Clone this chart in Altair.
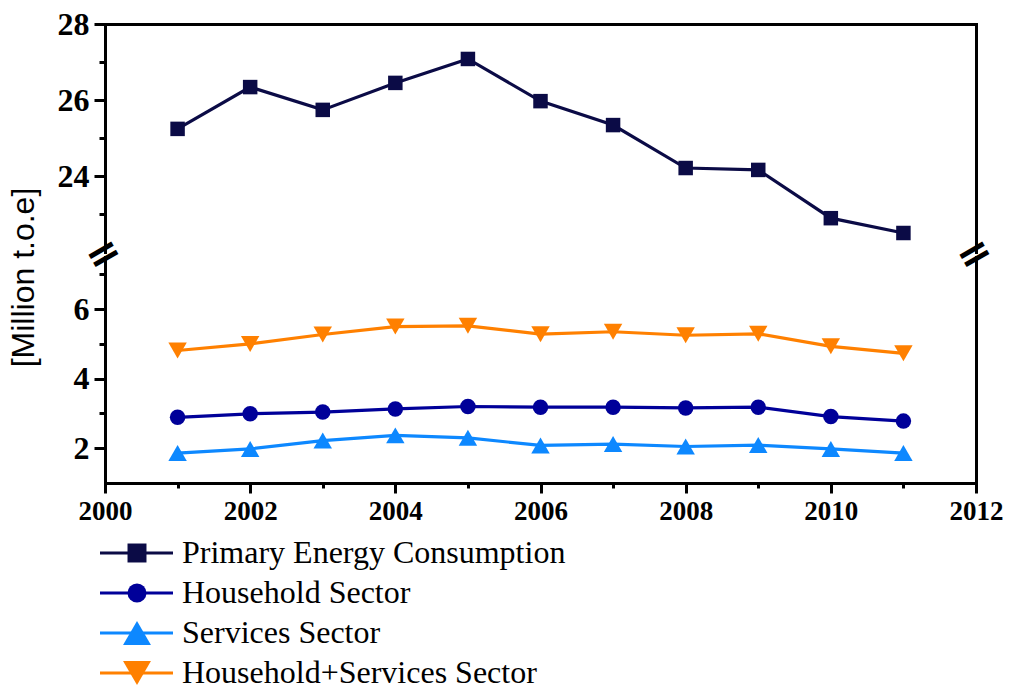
import altair as alt
import pandas as pd

years = list(range(2001, 2012))
primary = [25.24, 26.34, 25.74, 26.45, 27.08, 25.97, 25.34, 24.21, 24.16, 22.89, 22.50]
household = [2.89, 2.99, 3.04, 3.13, 3.20, 3.18, 3.18, 3.16, 3.18, 2.91, 2.78]
services = [1.86, 1.98, 2.22, 2.37, 2.30, 2.08, 2.12, 2.05, 2.09, 1.98, 1.86]
household_services = [4.81, 5.00, 5.27, 5.50, 5.52, 5.28, 5.35, 5.25, 5.29, 4.93, 4.73]

series = ["Primary Energy Consumption", "Household Sector", "Services Sector",
          "Household+Services Sector"]
colors = ["#0b0b46", "#000099", "#0d88ff", "#ff8000"]
shapes = ["square", "circle", "triangle-up", "triangle-down"]
x_ticks = list(range(2000, 2013))
top_ticks = [23, 24, 25, 26, 27, 28]
low_ticks = [2, 3, 4, 5, 6, 7]
break_years = [2000, 2012]

top_df = pd.DataFrame({"year": years, "value": primary, "series": series[0]})
low_df = pd.concat([
    pd.DataFrame({"year": years, "value": household, "series": series[1]}),
    pd.DataFrame({"year": years, "value": services, "series": series[2]}),
    pd.DataFrame({"year": years, "value": household_services, "series": series[3]}),
])
break_df = pd.DataFrame({"year": break_years})
legend_df = pd.DataFrame({"series": series})

BLACK = "black"
xscale = alt.Scale(domain=[2000, 2012], nice=False, zero=False)
color = alt.Color("series:N", scale=alt.Scale(domain=series, range=colors), legend=None)
shape = alt.Shape("series:N", scale=alt.Scale(domain=series, range=shapes), legend=None)
TRI = "indexof(datum.series, 'Services') >= 0"
NOT_TRI = "indexof(datum.series, 'Services') < 0"

axis_common = dict(domainColor=BLACK, domainWidth=3, domainCap="square", tickColor=BLACK,
                   tickWidth=3, grid=False)

x_none = alt.X("year:Q", scale=xscale, axis=None)

# ---------- upper segment ----------
top_scale = alt.Scale(domain=[22, 28], range=[228, 0], nice=False, zero=False)
top_left_axis = alt.Axis(
    orient="left", values=top_ticks, format="d",
    labelExpr="datum.value % 2 == 0 ? datum.label : ''",
    tickSize={"condition": {"test": "datum.value % 2 == 1", "value": 6}, "value": 11},
    labelFont="Liberation Serif", labelFontWeight="bold", labelFontSize=32, labelColor=BLACK,
    labelPadding=5,
    title="[Million t.o.e]", titleFont="Liberation Sans", titleFontWeight="normal",
    titleFontSize=32, titleColor=BLACK, titleX=-82, titleY=253, titleAngle=270,
    titleAlign="center", titleBaseline="middle",
    **axis_common)
top_right_axis = alt.Axis(orient="right", labels=False, ticks=False, title=None, **axis_common)
top_x_axis = alt.Axis(orient="top", labels=False, ticks=False, title=None, **axis_common)

top_line = alt.Chart(top_df).mark_line(strokeWidth=3.2).encode(
    x=alt.X("year:Q", scale=xscale, axis=top_x_axis),
    y=alt.Y("value:Q", scale=top_scale, axis=top_left_axis),
    color=color,
)
top_pts = alt.Chart(top_df).mark_point(filled=True, opacity=1, size=210).encode(
    x=x_none,
    y=alt.Y("value:Q", scale=top_scale, axis=top_right_axis),
    color=color, shape=shape,
)
top = alt.layer(top_line, top_pts).resolve_scale(y="shared").resolve_axis(x="independent", y="independent")

# ---------- lower segment ----------
low_scale = alt.Scale(domain=[1, 7.5], range=[459, 233], nice=False, zero=False)
low_left_axis = alt.Axis(
    orient="left", values=low_ticks, format="d",
    labelExpr="datum.value % 2 == 0 ? datum.label : ''",
    tickSize={"condition": {"test": "datum.value % 2 == 1", "value": 6}, "value": 11},
    labelFont="Liberation Serif", labelFontWeight="bold", labelFontSize=32, labelColor=BLACK,
    labelPadding=5, title=None,
    **axis_common)
low_right_axis = alt.Axis(orient="right", labels=False, ticks=False, title=None, **axis_common)
low_x_axis = alt.Axis(
    orient="bottom", values=x_ticks, format="d",
    labelExpr="datum.value % 2 == 0 ? datum.label : ''",
    tickSize={"condition": {"test": "datum.value % 2 == 1", "value": 5}, "value": 10},
    labelFont="Liberation Serif", labelFontWeight="bold", labelFontSize=27, labelColor=BLACK,
    labelPadding=5, labelFlush=False, labelOverlap=False, title=None,
    **axis_common)

low_line = alt.Chart(low_df).mark_line(strokeWidth=3.2).encode(
    x=alt.X("year:Q", scale=xscale, axis=low_x_axis),
    y=alt.Y("value:Q", scale=low_scale, axis=low_left_axis),
    color=color, detail="series:N",
)
low_circ = alt.Chart(low_df).transform_filter(NOT_TRI).mark_point(
    filled=True, opacity=1, size=240
).encode(
    x=x_none,
    y=alt.Y("value:Q", scale=low_scale, axis=low_right_axis),
    color=color, shape=shape,
)
low_tri = alt.Chart(low_df).transform_filter(TRI).mark_point(
    filled=True, opacity=1, size=340
).encode(
    x=x_none,
    y=alt.Y("value:Q", scale=low_scale, axis=None),
    color=color, shape=shape,
)
breaks = alt.Chart(break_df).mark_text(
    text="=", angle=330, fontSize=42, font="DejaVu Sans", fontWeight="bold",
    align="center", baseline="middle", color=BLACK, dy=-3,
).encode(
    x=x_none,
    y=alt.Y(datum=7.5, scale=low_scale, axis=None),
)
bottom = alt.layer(low_line, low_circ, low_tri, breaks).resolve_scale(y="shared").resolve_axis(
    x="independent", y="independent")

# ---------- legend ----------
leg_y = alt.Y("series:N", scale=alt.Scale(type="point", domain=series, range=[529, 649], padding=0),
              axis=None)
leg_rule = alt.Chart(legend_df).mark_rule(strokeWidth=3.2).encode(
    y=leg_y, x=alt.value(-5), x2=alt.value(68), color=color)
leg_sq = alt.Chart(legend_df).transform_filter(NOT_TRI).mark_point(
    filled=True, opacity=1, size=360
).encode(y=leg_y, x=alt.value(32), color=color, shape=shape)
leg_tri = alt.Chart(legend_df).transform_filter(TRI).mark_point(
    filled=True, opacity=1, size=780
).encode(y=leg_y, x=alt.value(32), color=color, shape=shape)
leg_text = alt.Chart(legend_df).mark_text(
    align="left", baseline="middle", font="Liberation Serif", fontSize=32, color=BLACK
).encode(y=leg_y, x=alt.value(77), text="series:N")
legend = alt.layer(leg_rule, leg_sq, leg_tri, leg_text)

chart = alt.layer(top, bottom, legend).resolve_scale(
    y="independent"
).resolve_axis(
    x="independent", y="independent"
).properties(
    width=871, height=459,
    autosize=alt.AutoSizeParams(type="none"),
    padding={"left": 105, "top": 24, "right": 33, "bottom": 208},
    background="white",
).configure_view(stroke=None)

chart.save("out.html", embed_options={"renderer": "svg", "actions": False})
